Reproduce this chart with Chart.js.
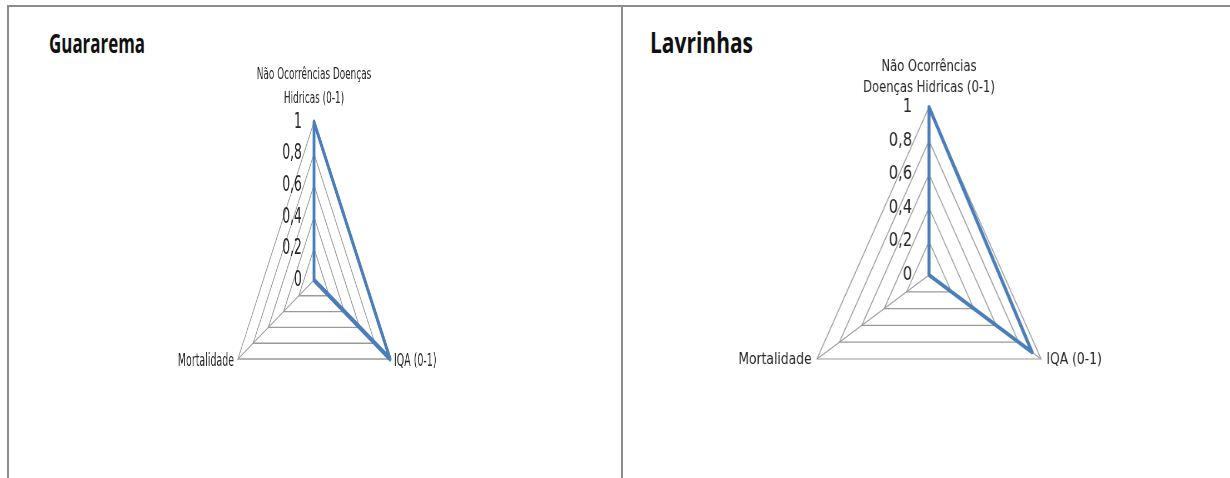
<!DOCTYPE html>
<html lang="pt-BR">
<head>
<meta charset="utf-8">
<script src="https://cdn.jsdelivr.net/npm/chart.js@4.4.1/dist/chart.umd.min.js"></script>
<style>
  html, body { margin: 0; padding: 0; background: #fff; }
  body { width: 1230px; height: 478px; position: relative; overflow: hidden; }
  .rule { position: absolute; background: #8c8c8c; }
  .title { position: absolute; font-family: "Open Sans", sans-serif; font-weight: 700; line-height: 1;
           color: #111; transform-origin: 0 0; white-space: nowrap; }
  canvas.radar { position: absolute; transform-origin: 50% 0; }
</style>
</head>
<body>
<div class="rule" style="left:7px;top:5px;width:1223px;height:2px"></div>
<div class="rule" style="left:7px;top:5px;width:2px;height:473px"></div>
<div class="rule" style="left:621px;top:5px;width:2px;height:473px"></div>
<div class="title" id="title1" style="left:49px;top:29px;font-size:27px"></div>
<div class="title" id="title2" style="left:650px;top:28px;font-size:28px"></div>
<canvas class="radar" id="radar1" width="520" height="398" style="left:54px;top:40px;transform:scaleX(0.556)"></canvas>
<canvas class="radar" id="radar2" width="520" height="413" style="left:669px;top:30px;transform:scaleX(0.77)"></canvas>
<script>
// Municipalities
const chartTitles = ['Guararema', 'Lavrinhas'];

// Axis categories (clockwise from the top); first label wraps differently in each panel
const guararemaAxes = [['Não Ocorrências Doenças', 'Hidricas (0-1)'], 'IQA (0-1)', 'Mortalidade'];
const lavrinhasAxes = [['Não Ocorrências', 'Doenças Hidricas (0-1)'], 'IQA (0-1)', 'Mortalidade'];

// Indicator values
const guararemaValues = [1, 1, 0];
const lavrinhasValues = [1, 0.92, 0];

// Radial scale ticks
const tickValues = [0, 0.2, 0.4, 0.6, 0.8, 1];
const tickLabels = ['0', '0,2', '0,4', '0,6', '0,8', '1'];

const FONT = '"DejaVu Sans", sans-serif';
const TEXT = '#262626';
const GRID = '#9a9a9a';
const SERIES = '#4a7ebb';

// Draws the tick labels and the axis labels from the radial scale's own geometry
const radarText = {
  id: 'radarText',
  afterDraw(chart, args, o) {
    const r = chart.scales.r;
    const ctx = chart.ctx;
    const labels = chart.data.labels;
    ctx.save();
    ctx.fillStyle = TEXT;
    ctx.textBaseline = 'middle';

    ctx.font = o.tickSize + 'px ' + FONT;
    ctx.textAlign = 'right';
    tickValues.forEach((v, i) => {
      const p = r.getPointPositionForValue(0, v);
      ctx.fillText(tickLabels[i], p.x - o.tickGap, p.y);
    });

    const top = r.getPointPosition(0, r.drawingArea);
    const lines = [].concat(labels[0]);
    ctx.font = o.topSize + 'px ' + FONT;
    ctx.textAlign = 'center';
    lines.forEach((line, i) => {
      ctx.fillText(line, top.x, top.y - o.topGap - (lines.length - 1 - i) * o.topLineHeight);
    });

    ctx.font = o.sideSize + 'px ' + FONT;
    const right = r.getPointPosition(1, r.drawingArea);
    ctx.textAlign = 'left';
    ctx.fillText(labels[1], right.x + o.sideGap, right.y + o.sideDy);
    const left = r.getPointPosition(2, r.drawingArea);
    ctx.textAlign = 'right';
    ctx.fillText(labels[2], left.x - o.sideGap, left.y + o.sideDy);
    ctx.restore();
  }
};

function makeRadar(id, axes, values, padTop, lineWidth, gridWidth, text) {
  return new Chart(document.getElementById(id), {
    type: 'radar',
    data: {
      labels: axes,
      datasets: [{
        data: values,
        borderColor: SERIES,
        backgroundColor: 'transparent',
        borderWidth: lineWidth,
        borderJoinStyle: 'round',
        fill: false,
        pointRadius: 0,
        pointHoverRadius: 0
      }]
    },
    options: {
      responsive: false,
      animation: false,
      layout: { padding: { top: padTop, left: 0, right: 0, bottom: 0 } },
      plugins: {
        legend: { display: false },
        title: { display: false },
        tooltip: { enabled: false },
        radarText: text
      },
      scales: {
        r: {
          min: 0,
          max: 1,
          ticks: { display: false, stepSize: 0.2 },
          grid: { color: GRID, lineWidth: gridWidth },
          angleLines: { color: GRID, lineWidth: gridWidth },
          pointLabels: { display: false }
        }
      }
    },
    plugins: [radarText]
  });
}

makeRadar('radar1', guararemaAxes, guararemaValues, 82, 5, 1.4,
  { tickSize: 22, tickGap: 22, topSize: 16, topGap: 23, topLineHeight: 24, sideSize: 17, sideGap: 7, sideDy: 3 });
makeRadar('radar2', lavrinhasAxes, lavrinhasValues, 77, 4, 1.2,
  { tickSize: 19, tickGap: 22, topSize: 15, topGap: 19, topLineHeight: 21, sideSize: 16, sideGap: 7, sideDy: 1 });

// Panel titles, condensed to the panel's heading width
const titleWidths = [96, 103];
['title1', 'title2'].forEach((id, i) => {
  const el = document.getElementById(id);
  el.textContent = chartTitles[i];
  const w = el.getBoundingClientRect().width;
  el.style.transform = 'scaleX(' + (titleWidths[i] / w).toFixed(3) + ')';
});
</script>
</body>
</html>
